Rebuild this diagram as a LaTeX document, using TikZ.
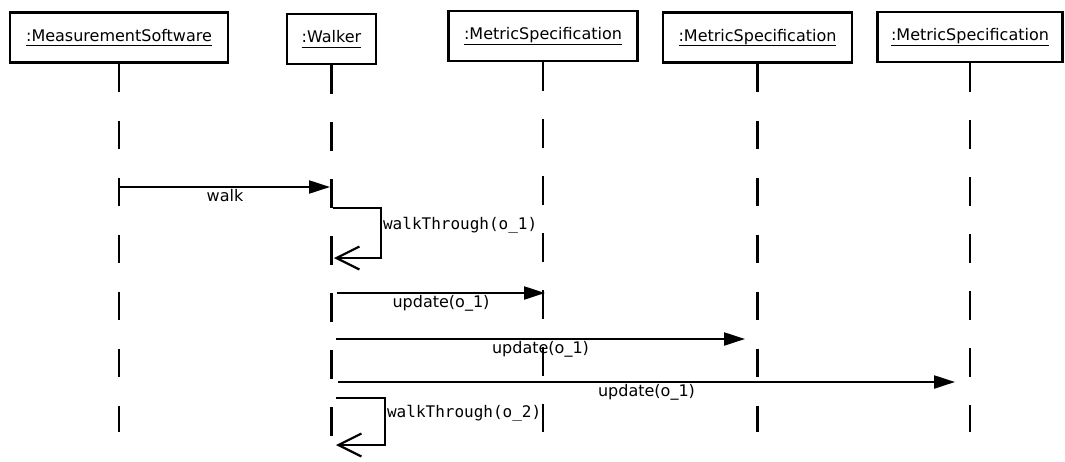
\documentclass[tikz,border=0pt]{standalone}
\usepackage{fontspec}
\setmainfont{DejaVu Sans}
\setmonofont{DejaVu Sans Mono}
\usetikzlibrary{arrows.meta}
\newcommand{\objname}[1]{\underline{\raisebox{0pt}[\height][0pt]{#1}\rule[-2.6pt]{0pt}{0pt}}}
\begin{document}
\begin{tikzpicture}[x=1pt, y=-1pt,
    obj/.style={draw, line width=2.2pt, fill=white, inner sep=0pt, font=\fontsize{16}{19}\selectfont},
    life/.style={line width=2.2pt, dash pattern=on 28.5pt off 28.5pt},
    msg/.style={line width=2.2pt, -{Triangle[length=21pt,width=13pt]}},
    selfmsg/.style={line width=2.2pt, -{Straight Barb[length=23pt,width=23pt]}},
    lbl/.style={inner sep=1pt, font=\fontsize{16}{19}\selectfont},
    mono/.style={inner sep=1pt, font=\fontsize{16}{19}\selectfont\ttfamily}]
    \useasboundingbox (0,0) rectangle (1065,461);

    \node[obj, minimum width=218pt, minimum height=50pt] (ms) at (119,37.5) {\objname{:MeasurementSoftware}};
    \node[obj, minimum width=89pt, minimum height=50pt] (wk) at (331.5,39) {\objname{:Walker}};
    \node[obj, minimum width=189pt, minimum height=50pt] (m1) at (543,36) {\objname{:MetricSpecification}};
    \node[obj, minimum width=189pt, minimum height=50pt] (m2) at (757.5,37.5) {\objname{:MetricSpecification}};
    \node[obj, minimum width=185pt, minimum height=50pt] (m3) at (970,37) {\objname{:MetricSpecification}};

    \coordinate (bot) at (0,432);
    \coordinate (botw) at (0,461);
    \foreach \o in {ms, m1, m2, m3} {
            \draw[life] (\o.south) -- (\o.south |- bot);
        }
    \draw[life] (wk.south) -- (wk.south |- botw);

    \coordinate (walkA) at (120,187);
    \coordinate (walkB) at (330,187);
    \draw[msg] (walkA) -- node[lbl, below] {walk} (walkB);

    \coordinate (wtA) at (333,208);
    \coordinate (wtB) at (381,208);
    \coordinate (wtC) at (381,258);
    \coordinate (wtD) at (334,258);
    \draw[selfmsg] (wtA) -- (wtB) -- node[mono, right, pos=0.34] {walkThrough(o\_1)} (wtC) -- (wtD);

    \foreach \y/\xa/\xb in {293/337/545, 339/336/745, 382/338/955} {
            \coordinate (upA) at (\xa,\y);
            \coordinate (upB) at (\xb,\y);
            \draw[msg] (upA) -- node[lbl, below] {update(o\_1)} (upB);
        }

    \coordinate (wsA) at (336,398);
    \coordinate (wsB) at (385,398);
    \coordinate (wsC) at (385,445);
    \coordinate (wsD) at (336,445);
    \draw[selfmsg] (wsA) -- (wsB) -- node[mono, right, pos=0.32] {walkThrough(o\_2)} (wsC) -- (wsD);

\end{tikzpicture}
\end{document}
